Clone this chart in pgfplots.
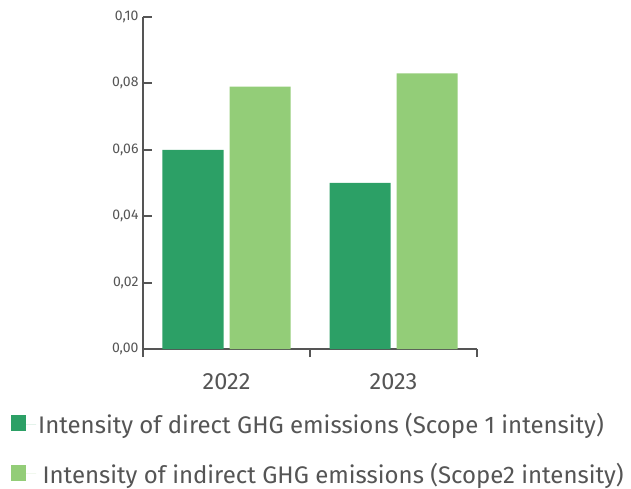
\documentclass[border=0pt]{standalone}
\usepackage{pgfplots}
\pgfplotsset{compat=1.18}
\usepackage{fontspec}
\setmainfont{Fira Sans}
\definecolor{dg}{HTML}{2CA066}
\definecolor{lg}{HTML}{93CD78}
\definecolor{tx}{HTML}{555555}
\begin{document}
\begin{tikzpicture}
\path[use as bounding box] (-143pt,-140pt) rectangle (488pt,349pt);
\begin{axis}[
  scale only axis,
  width=334pt, height=332pt,
  xmin=-0.5, xmax=1.5, ymin=0, ymax=0.1,
  axis x line*=bottom, axis y line*=left,
  axis line style={tx, line width=2pt, -},
  xtick={0,1}, xticklabels={2022,2023},
  minor xtick={-0.5,0.5,1.5},
  major x tick style={draw=none},
  minor tick length=8pt,
  tick align=inside,
  ytick={0,0.02,0.04,0.06,0.08,0.1},
  major tick length=9pt,
  y tick style={tx, line width=2pt},
  x tick style={tx, line width=2pt},
  /pgf/number format/fixed, /pgf/number format/fixed zerofill, /pgf/number format/precision=2, /pgf/number format/use comma, /pgf/number format/assume math mode=true,
  yticklabel style={font=\fontsize{14}{16}\selectfont, text=tx, xshift=-1pt},
  xticklabel style={font=\fontsize{23.5}{28}\selectfont, text=tx, yshift=-12pt},
  ybar, bar width=61pt,
  legend cell align=left,
  legend style={at={(rel axis cs:0,0)}, anchor=north west, xshift=-135pt, yshift=-60pt,
    draw=none, font=\fontsize{24}{29}\selectfont, text=tx, row sep=24pt},
  legend image code/.code={\fill[#1] (0pt,-7pt) rectangle (15pt,9pt); \path (0pt,0pt) -- (25pt,0pt);},
]
\addplot[fill=dg, draw=none, bar shift=-33.5pt] coordinates {(0,0.06) (1,0.05)};
\addplot[fill=lg, draw=none, bar shift=33.5pt] coordinates {(0,0.079) (1,0.083)};
\legend{Intensity of direct GHG emissions (Scope 1 intensity), {\kern-2pt\ Intensity of indirect GHG emissions (Scope2 intensity)}}
\end{axis}
\end{tikzpicture}
\end{document}
